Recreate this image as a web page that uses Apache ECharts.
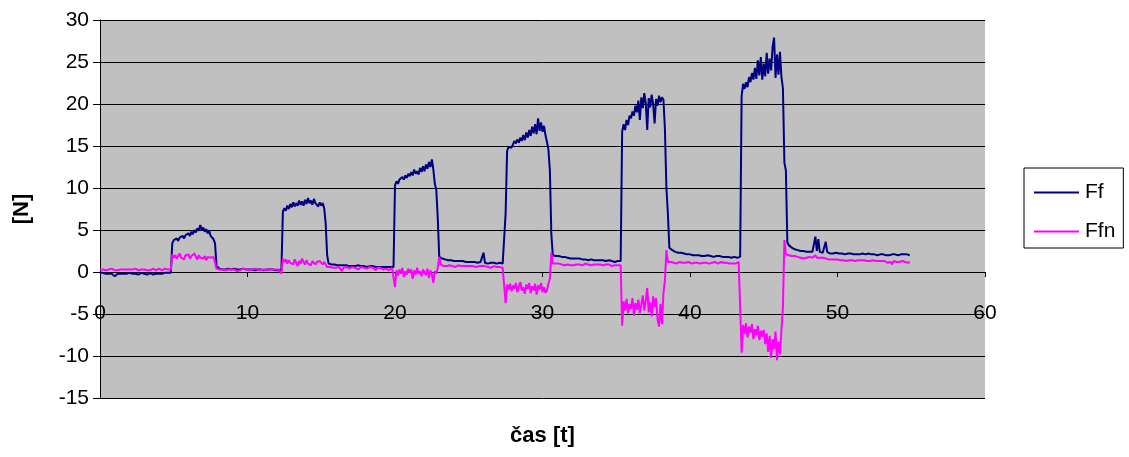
<!DOCTYPE html>
<html>
<head>
<meta charset="utf-8">
<script src="https://cdn.jsdelivr.net/npm/echarts@6/dist/echarts.min.js"></script>
<style>
  html, body { margin: 0; padding: 0; background: #fff; }
  #chart { width: 1129px; height: 457px; }
</style>
</head>
<body>
<div id="chart"></div>
<script>
// Sample times [t]
const time = [
  0.0,0.1,0.2,0.3,0.4,0.5,0.6,0.7,0.8,0.9,
  1.0,1.1,1.2,1.3,1.4,1.5,1.6,1.7,1.8,1.9,
  2.0,2.1,2.2,2.3,2.4,2.5,2.6,2.7,2.8,2.9,
  3.0,3.1,3.2,3.3,3.4,3.5,3.6,3.7,3.8,3.9,
  4.0,4.1,4.2,4.3,4.4,4.5,4.6,4.7,4.8,4.9,
  5.0,5.1,5.2,5.3,5.4,5.5,5.6,5.7,5.8,5.9,
  6.0,6.1,6.2,6.3,6.4,6.5,6.6,6.7,6.8,6.9,
  7.0,7.1,7.2,7.3,7.4,7.5,7.6,7.7,7.8,7.9,
  8.0,8.1,8.2,8.3,8.4,8.5,8.6,8.7,8.8,8.9,
  9.0,9.1,9.2,9.3,9.4,9.5,9.6,9.7,9.8,9.9,
  10.0,10.1,10.2,10.3,10.4,10.5,10.6,10.7,10.8,10.9,
  11.0,11.1,11.2,11.3,11.4,11.5,11.6,11.7,11.8,11.9,
  12.0,12.1,12.2,12.3,12.4,12.5,12.6,12.7,12.8,12.9,
  13.0,13.1,13.2,13.3,13.4,13.5,13.6,13.7,13.8,13.9,
  14.0,14.1,14.2,14.3,14.4,14.5,14.6,14.7,14.8,14.9,
  15.0,15.1,15.2,15.3,15.4,15.5,15.6,15.7,15.8,15.9,
  16.0,16.1,16.2,16.3,16.4,16.5,16.6,16.7,16.8,16.9,
  17.0,17.1,17.2,17.3,17.4,17.5,17.6,17.7,17.8,17.9,
  18.0,18.1,18.2,18.3,18.4,18.5,18.6,18.7,18.8,18.9,
  19.0,19.1,19.2,19.3,19.4,19.5,19.6,19.7,19.8,19.9,
  20.0,20.1,20.2,20.3,20.4,20.5,20.6,20.7,20.8,20.9,
  21.0,21.1,21.2,21.3,21.4,21.5,21.6,21.7,21.8,21.9,
  22.0,22.1,22.2,22.3,22.4,22.5,22.6,22.7,22.8,22.9,
  23.0,23.1,23.2,23.3,23.4,23.5,23.6,23.7,23.8,23.9,
  24.0,24.1,24.2,24.3,24.4,24.5,24.6,24.7,24.8,24.9,
  25.0,25.1,25.2,25.3,25.4,25.5,25.6,25.7,25.8,25.9,
  26.0,26.1,26.2,26.3,26.4,26.5,26.6,26.7,26.8,26.9,
  27.0,27.1,27.2,27.3,27.4,27.5,27.6,27.7,27.8,27.9,
  28.0,28.1,28.2,28.3,28.4,28.5,28.6,28.7,28.8,28.9,
  29.0,29.1,29.2,29.3,29.4,29.5,29.6,29.7,29.8,29.9,
  30.0,30.1,30.2,30.3,30.4,30.5,30.6,30.7,30.8,30.9,
  31.0,31.1,31.2,31.3,31.4,31.5,31.6,31.7,31.8,31.9,
  32.0,32.1,32.2,32.3,32.4,32.5,32.6,32.7,32.8,32.9,
  33.0,33.1,33.2,33.3,33.4,33.5,33.6,33.7,33.8,33.9,
  34.0,34.1,34.2,34.3,34.4,34.5,34.6,34.7,34.8,34.9,
  35.0,35.1,35.2,35.3,35.4,35.5,35.6,35.7,35.8,35.9,
  36.0,36.1,36.2,36.3,36.4,36.5,36.6,36.7,36.8,36.9,
  37.0,37.1,37.2,37.3,37.4,37.5,37.6,37.7,37.8,37.9,
  38.0,38.1,38.2,38.3,38.4,38.5,38.6,38.7,38.8,38.9,
  39.0,39.1,39.2,39.3,39.4,39.5,39.6,39.7,39.8,39.9,
  40.0,40.1,40.2,40.3,40.4,40.5,40.6,40.7,40.8,40.9,
  41.0,41.1,41.2,41.3,41.4,41.5,41.6,41.7,41.8,41.9,
  42.0,42.1,42.2,42.3,42.4,42.5,42.6,42.7,42.8,42.9,
  43.0,43.1,43.2,43.3,43.4,43.5,43.6,43.7,43.8,43.9,
  44.0,44.1,44.2,44.3,44.4,44.5,44.6,44.7,44.8,44.9,
  45.0,45.1,45.2,45.3,45.4,45.5,45.6,45.7,45.8,45.9,
  46.0,46.1,46.2,46.3,46.4,46.5,46.6,46.7,46.8,46.9,
  47.0,47.1,47.2,47.3,47.4,47.5,47.6,47.7,47.8,47.9,
  48.0,48.1,48.2,48.3,48.4,48.5,48.6,48.7,48.8,48.9,
  49.0,49.1,49.2,49.3,49.4,49.5,49.6,49.7,49.8,49.9,
  50.0,50.1,50.2,50.3,50.4,50.5,50.6,50.7,50.8,50.9,
  51.0,51.1,51.2,51.3,51.4,51.5,51.6,51.7,51.8,51.9,
  52.0,52.1,52.2,52.3,52.4,52.5,52.6,52.7,52.8,52.9,
  53.0,53.1,53.2,53.3,53.4,53.5,53.6,53.7,53.8,53.9,
  54.0,54.1,54.2,54.3,54.4,54.5,54.6,54.7,54.8,54.9
];

// Ff [N]
const ff = [
  -0.1,-0.2,-0.1,-0.3,-0.2,-0.1,-0.2,-0.3,-0.2,-0.1,
  -0.5,-0.3,-0.2,-0.1,-0.2,-0.3,-0.2,-0.1,-0.2,-0.2,
  -0.1,-0.3,-0.2,-0.1,-0.2,-0.1,-0.3,-0.2,-0.1,-0.2,
  -0.2,-0.1,-0.3,-0.2,-0.1,-0.2,-0.3,-0.1,-0.2,-0.1,
  -0.2,-0.1,-0.2,-0.3,-0.1,-0.2,-0.1,-0.2,-0.1,3.4,
  3.8,3.6,4.0,3.7,4.1,3.9,4.3,4.0,4.4,4.2,
  4.6,4.3,4.8,4.5,5.0,4.7,5.2,4.9,5.6,5.0,
  5.3,4.8,5.1,4.6,4.9,4.3,4.5,3.9,3.4,0.7,
  0.5,0.4,0.4,0.3,0.4,0.3,0.3,0.4,0.3,0.3,
  0.3,0.4,0.3,0.3,0.2,0.3,0.3,0.4,0.3,0.3,
  0.3,0.3,0.2,0.3,0.3,0.2,0.3,0.3,0.2,0.3,
  0.3,0.2,0.3,0.3,0.2,0.3,0.2,0.3,0.3,0.2,
  0.3,0.2,0.3,0.3,7.2,7.6,7.3,7.9,7.5,8.1,
  7.7,8.3,7.8,8.2,7.9,8.5,8.0,8.4,7.9,8.6,
  8.1,8.8,8.2,8.5,8.0,8.7,8.2,8.4,7.8,8.3,
  7.9,8.2,7.6,5.8,2.0,1.0,1.0,0.9,0.9,0.9,
  0.9,0.8,0.9,0.8,0.8,0.8,0.9,0.8,0.8,0.7,
  0.8,0.7,0.8,0.7,0.7,0.8,0.7,0.7,0.7,0.7,
  0.7,0.6,0.7,0.7,0.6,0.7,0.6,0.6,0.7,0.6,
  0.6,0.6,0.7,0.6,0.6,0.6,0.5,0.6,0.6,0.6,
  10.3,10.8,10.5,11.0,10.8,11.3,11.0,11.5,11.2,11.7,
  11.4,11.9,11.5,12.2,11.7,12.0,11.6,12.4,11.9,12.6,
  12.0,12.8,12.3,13.1,12.5,13.4,12.2,10.5,9.8,6.4,
  1.8,1.7,1.6,1.6,1.5,1.5,1.4,1.5,1.4,1.4,
  1.3,1.4,1.3,1.3,1.3,1.2,1.3,1.2,1.2,1.3,
  1.2,1.2,1.2,1.1,1.2,1.2,1.1,1.1,1.2,1.1,
  2.3,1.1,1.1,1.0,1.1,1.1,1.0,1.1,1.0,1.0,
  1.0,1.1,1.0,1.0,1.0,7.0,14.4,14.9,15.1,14.8,
  15.2,15.6,15.3,15.8,15.4,16.0,15.6,16.3,15.7,16.6,
  16.0,16.9,16.2,17.3,16.5,17.6,16.4,18.3,16.8,17.8,
  16.7,17.4,16.3,15.5,14.6,12.1,4.5,2.0,1.9,1.9,
  1.8,1.9,1.8,1.8,1.7,1.8,1.7,1.7,1.7,1.6,
  1.7,1.6,1.6,1.6,1.5,1.6,1.5,1.5,1.6,1.5,
  1.5,1.4,1.5,1.5,1.4,1.4,1.5,1.4,1.4,1.4,
  1.3,1.4,1.4,1.3,1.3,1.4,1.3,1.3,1.3,1.2,
  1.3,1.3,1.2,1.3,16.7,17.6,16.9,18.1,17.5,18.6,
  18.3,19.1,18.6,19.8,19.0,20.4,18.1,20.8,19.5,21.3,
  20.1,16.9,20.7,19.6,21.1,20.0,17.7,20.6,19.8,21.0,
  20.2,20.8,20.5,17.0,10.0,7.0,2.9,2.7,2.6,2.5,
  2.4,2.4,2.3,2.3,2.3,2.2,2.2,2.2,2.1,2.1,
  2.1,2.1,2.0,2.1,2.0,2.0,2.0,2.0,1.9,2.0,
  1.9,1.9,2.0,1.9,1.9,1.9,1.8,1.9,1.9,1.8,
  1.9,1.8,1.8,1.9,1.8,1.8,1.8,1.8,1.7,1.8,
  1.8,1.8,1.7,1.8,1.8,20.9,22.4,21.8,22.6,22.0,
  23.2,22.6,23.7,22.9,24.3,23.0,25.2,23.4,25.6,22.9,
  24.8,23.3,26.1,23.6,25.4,24.0,26.8,27.9,23.1,25.9,
  23.5,26.2,23.2,21.9,13.0,12.1,3.5,3.2,3.0,2.9,
  2.8,2.7,2.7,2.6,2.6,2.5,2.5,2.5,2.4,2.4,
  2.4,2.4,2.3,2.4,2.3,4.2,2.5,3.9,2.4,2.3,
  2.3,2.3,3.6,2.4,2.3,2.2,2.3,2.2,2.2,2.3,
  2.2,2.2,2.3,2.2,2.2,2.1,2.2,2.2,2.1,2.2,
  2.2,2.1,2.2,2.1,2.2,2.1,2.1,2.2,2.1,2.1,
  2.1,2.2,2.1,2.1,2.0,2.1,2.1,2.0,2.1,2.1,
  2.0,2.1,2.1,2.0,2.1,2.0,2.1,2.1,2.0,2.1,
  2.1,2.0,2.1,2.1,2.0,2.1,2.0,2.1,2.1,2.0
];

// Ffn [N]
const ffn = [
  0.3,0.2,0.3,0.4,0.2,0.3,0.3,0.2,0.4,0.3,
  0.2,0.3,0.2,0.4,0.3,0.2,0.3,0.1,0.3,0.4,
  0.3,0.2,0.3,0.2,0.4,0.3,0.2,0.3,0.3,0.2,
  0.3,0.4,0.2,0.3,0.2,0.3,0.4,0.3,0.2,0.3,
  0.4,0.3,0.2,0.3,0.4,0.2,0.3,0.4,0.3,2.1,
  1.7,2.0,1.6,1.9,2.2,1.7,1.9,1.5,2.0,1.8,
  2.1,1.6,1.9,1.7,2.2,1.8,1.5,2.0,1.7,1.9,
  1.6,1.9,1.4,1.8,1.6,1.7,1.5,1.8,1.6,0.4,
  0.3,0.3,0.2,0.3,0.4,0.2,0.3,0.3,0.2,0.3,
  0.2,0.3,0.3,0.1,0.3,0.2,0.3,0.4,0.2,0.3,
  0.3,0.2,0.3,0.3,0.2,0.4,0.2,0.3,0.3,0.2,
  0.2,0.3,0.3,0.2,0.0,0.3,0.2,0.3,0.2,0.3,
  0.2,0.3,0.2,-0.2,1.6,1.2,1.5,1.0,1.4,1.1,
  1.3,0.9,1.5,1.1,0.7,1.3,1.0,1.6,1.2,0.9,
  1.4,1.0,1.2,0.8,1.3,1.1,0.9,1.2,1.0,1.3,
  1.1,0.9,1.2,1.4,0.6,0.5,0.6,0.4,0.5,0.6,
  0.5,0.4,0.6,0.5,0.1,0.5,0.4,0.6,0.5,0.4,
  0.5,0.6,0.4,0.5,0.5,0.3,0.5,0.6,0.4,0.5,
  0.5,0.4,0.5,0.6,0.4,0.5,0.4,0.2,0.5,0.4,
  0.5,0.4,0.3,0.5,0.4,0.5,0.2,0.4,0.5,0.3,
  -1.8,0.2,-0.4,0.3,-0.2,0.5,-0.6,0.1,-0.3,0.4,
  -0.1,0.3,-0.8,0.2,-0.3,0.5,-0.2,0.1,-0.5,0.3,
  0.0,-0.4,0.4,-0.7,0.2,-0.3,-1.3,0.1,-0.2,0.5,
  1.8,0.9,0.8,0.7,0.8,0.7,0.7,0.8,0.6,0.7,
  0.7,0.6,0.7,0.8,0.6,0.7,0.6,0.7,0.6,0.7,
  0.6,0.7,0.6,0.7,0.7,0.6,0.5,0.7,0.6,0.7,
  0.6,0.7,0.6,0.6,0.7,0.5,0.6,0.7,0.6,0.6,
  0.7,0.6,0.6,0.5,0.6,-3.7,-1.5,-2.1,-1.4,-2.3,
  -1.6,-2.0,-1.3,-2.4,-1.7,-1.2,-2.2,-1.8,-2.6,-1.5,
  -2.0,-1.3,-2.5,-1.7,-2.2,-1.4,-2.7,-1.6,-2.1,-1.3,
  -2.4,-1.8,-2.5,-2.2,-1.4,-0.8,2.3,1.0,0.9,1.0,
  0.9,1.0,0.8,0.9,1.0,0.8,0.9,0.9,1.0,0.8,
  0.9,0.8,1.0,0.9,0.8,0.9,0.9,0.8,0.9,1.0,
  0.8,0.9,0.9,0.8,1.0,0.9,0.8,0.9,0.8,0.9,
  0.9,0.8,0.9,0.9,0.8,0.9,0.8,0.7,0.9,0.8,
  0.9,0.8,0.9,0.8,-6.4,-3.5,-4.6,-3.2,-4.9,-3.8,
  -4.4,-3.1,-5.2,-3.7,-4.5,-3.3,-4.9,-3.9,-2.8,-4.6,
  -3.4,-1.9,-4.8,-3.6,-5.3,-2.9,-4.2,-3.1,-5.6,-6.5,
  -3.8,-6.2,-2.5,-1.0,2.6,1.2,1.1,1.2,1.0,1.1,
  1.2,1.0,1.1,1.2,1.0,1.1,1.2,1.1,1.0,1.2,
  1.1,1.0,1.2,1.1,1.0,1.1,1.2,1.0,1.1,1.1,
  1.0,1.1,1.2,1.0,1.1,1.1,1.0,1.2,1.1,1.0,
  1.1,1.2,1.0,1.1,1.0,1.1,1.2,1.0,1.1,1.0,
  1.1,1.0,1.1,1.2,1.0,-9.6,-6.3,-7.4,-6.1,-7.8,
  -6.5,-7.2,-6.2,-8.0,-6.8,-7.5,-6.4,-8.1,-7.0,-7.7,
  -6.9,-8.6,-7.3,-9.5,-7.6,-10.2,-8.0,-9.2,-7.1,-10.5,
  -8.3,-9.8,-6.9,-4.2,3.8,2.1,1.9,2.0,1.8,1.9,
  1.8,1.9,1.7,1.8,1.9,1.7,1.8,1.6,1.8,1.7,
  1.7,1.8,1.6,1.7,1.8,2.0,1.7,1.6,1.7,1.6,
  1.7,1.5,1.6,1.7,1.5,1.6,1.5,1.6,1.5,1.4,
  1.5,1.6,1.4,1.5,1.4,1.5,1.3,1.5,1.4,1.4,
  1.4,1.5,1.3,1.4,1.4,1.3,1.4,1.2,1.4,1.3,
  1.3,1.4,1.3,1.2,1.4,1.3,1.3,1.2,1.3,1.4,
  1.3,1.2,1.3,1.3,1.1,1.3,1.2,0.9,1.3,1.2,
  1.2,1.3,1.2,1.1,1.3,1.2,1.2,1.3,1.1,1.2
];

const seriesNames = ['Ff', 'Ffn'];
const seriesColors = ['#000080', '#ff00ff'];

const FONT = '"Liberation Sans", Arial, sans-serif';

const toPairs = (values) => time.map((t, i) => [t, values[i]]);

const chart = echarts.init(document.getElementById('chart'), null, { renderer: 'canvas' });

chart.setOption({
  animation: false,
  backgroundColor: '#ffffff',
  textStyle: { fontFamily: FONT, color: '#000' },
  grid: {
    left: 100, top: 20, right: 144, bottom: 59,
    containLabel: false,
    outerBoundsMode: 'none',
    show: true, backgroundColor: '#c0c0c0', borderWidth: 0
  },
  legend: {
    orient: 'vertical',
    left: 1024, top: 168,
    padding: [14, 8, 6, 10],
    itemGap: 18,
    itemWidth: 45, itemHeight: 2,
    icon: 'rect',
    backgroundColor: '#ffffff',
    borderColor: '#000', borderWidth: 1, borderRadius: 0,
    textStyle: { fontFamily: FONT, fontSize: 21, color: '#000', padding: [0, 0, 0, 1] },
    data: seriesNames
  },
  xAxis: {
    type: 'value',
    min: 0, max: 60, interval: 10,
    name: 'čas [t]',
    nameLocation: 'middle',
    nameGap: 27,
    nameTextStyle: { fontFamily: FONT, fontSize: 22, fontWeight: 'bold', color: '#000' },
    axisLine: { onZero: true, lineStyle: { color: '#000', width: 1 } },
    axisTick: { show: true, length: 5, lineStyle: { color: '#000' } },
    // tick labels sit below the zero line, inside the plot
    axisLabel: { margin: -95, fontFamily: FONT, fontSize: 21, color: '#000' },
    splitLine: { show: false }
  },
  yAxis: {
    type: 'value',
    min: -15, max: 30, interval: 5,
    name: '[N]',
    nameLocation: 'middle',
    nameRotate: 90,
    nameGap: 67,
    nameTextStyle: { fontFamily: FONT, fontSize: 22, fontWeight: 'bold', color: '#000' },
    axisLine: { show: true, lineStyle: { color: '#000', width: 1 } },
    axisTick: { show: true, length: 7, lineStyle: { color: '#000' } },
    axisLabel: { margin: 11, fontFamily: FONT, fontSize: 21, color: '#000' },
    splitLine: { show: true, lineStyle: { color: '#000', width: 1 } }
  },
  series: seriesNames.map((name, k) => ({
    name,
    type: 'line',
    data: toPairs(k === 0 ? ff : ffn),
    showSymbol: false,
    symbol: 'none',
    color: seriesColors[k],
    lineStyle: { color: seriesColors[k], width: 2 },
    z: 2 + k
  }))
});
</script>
</body>
</html>
